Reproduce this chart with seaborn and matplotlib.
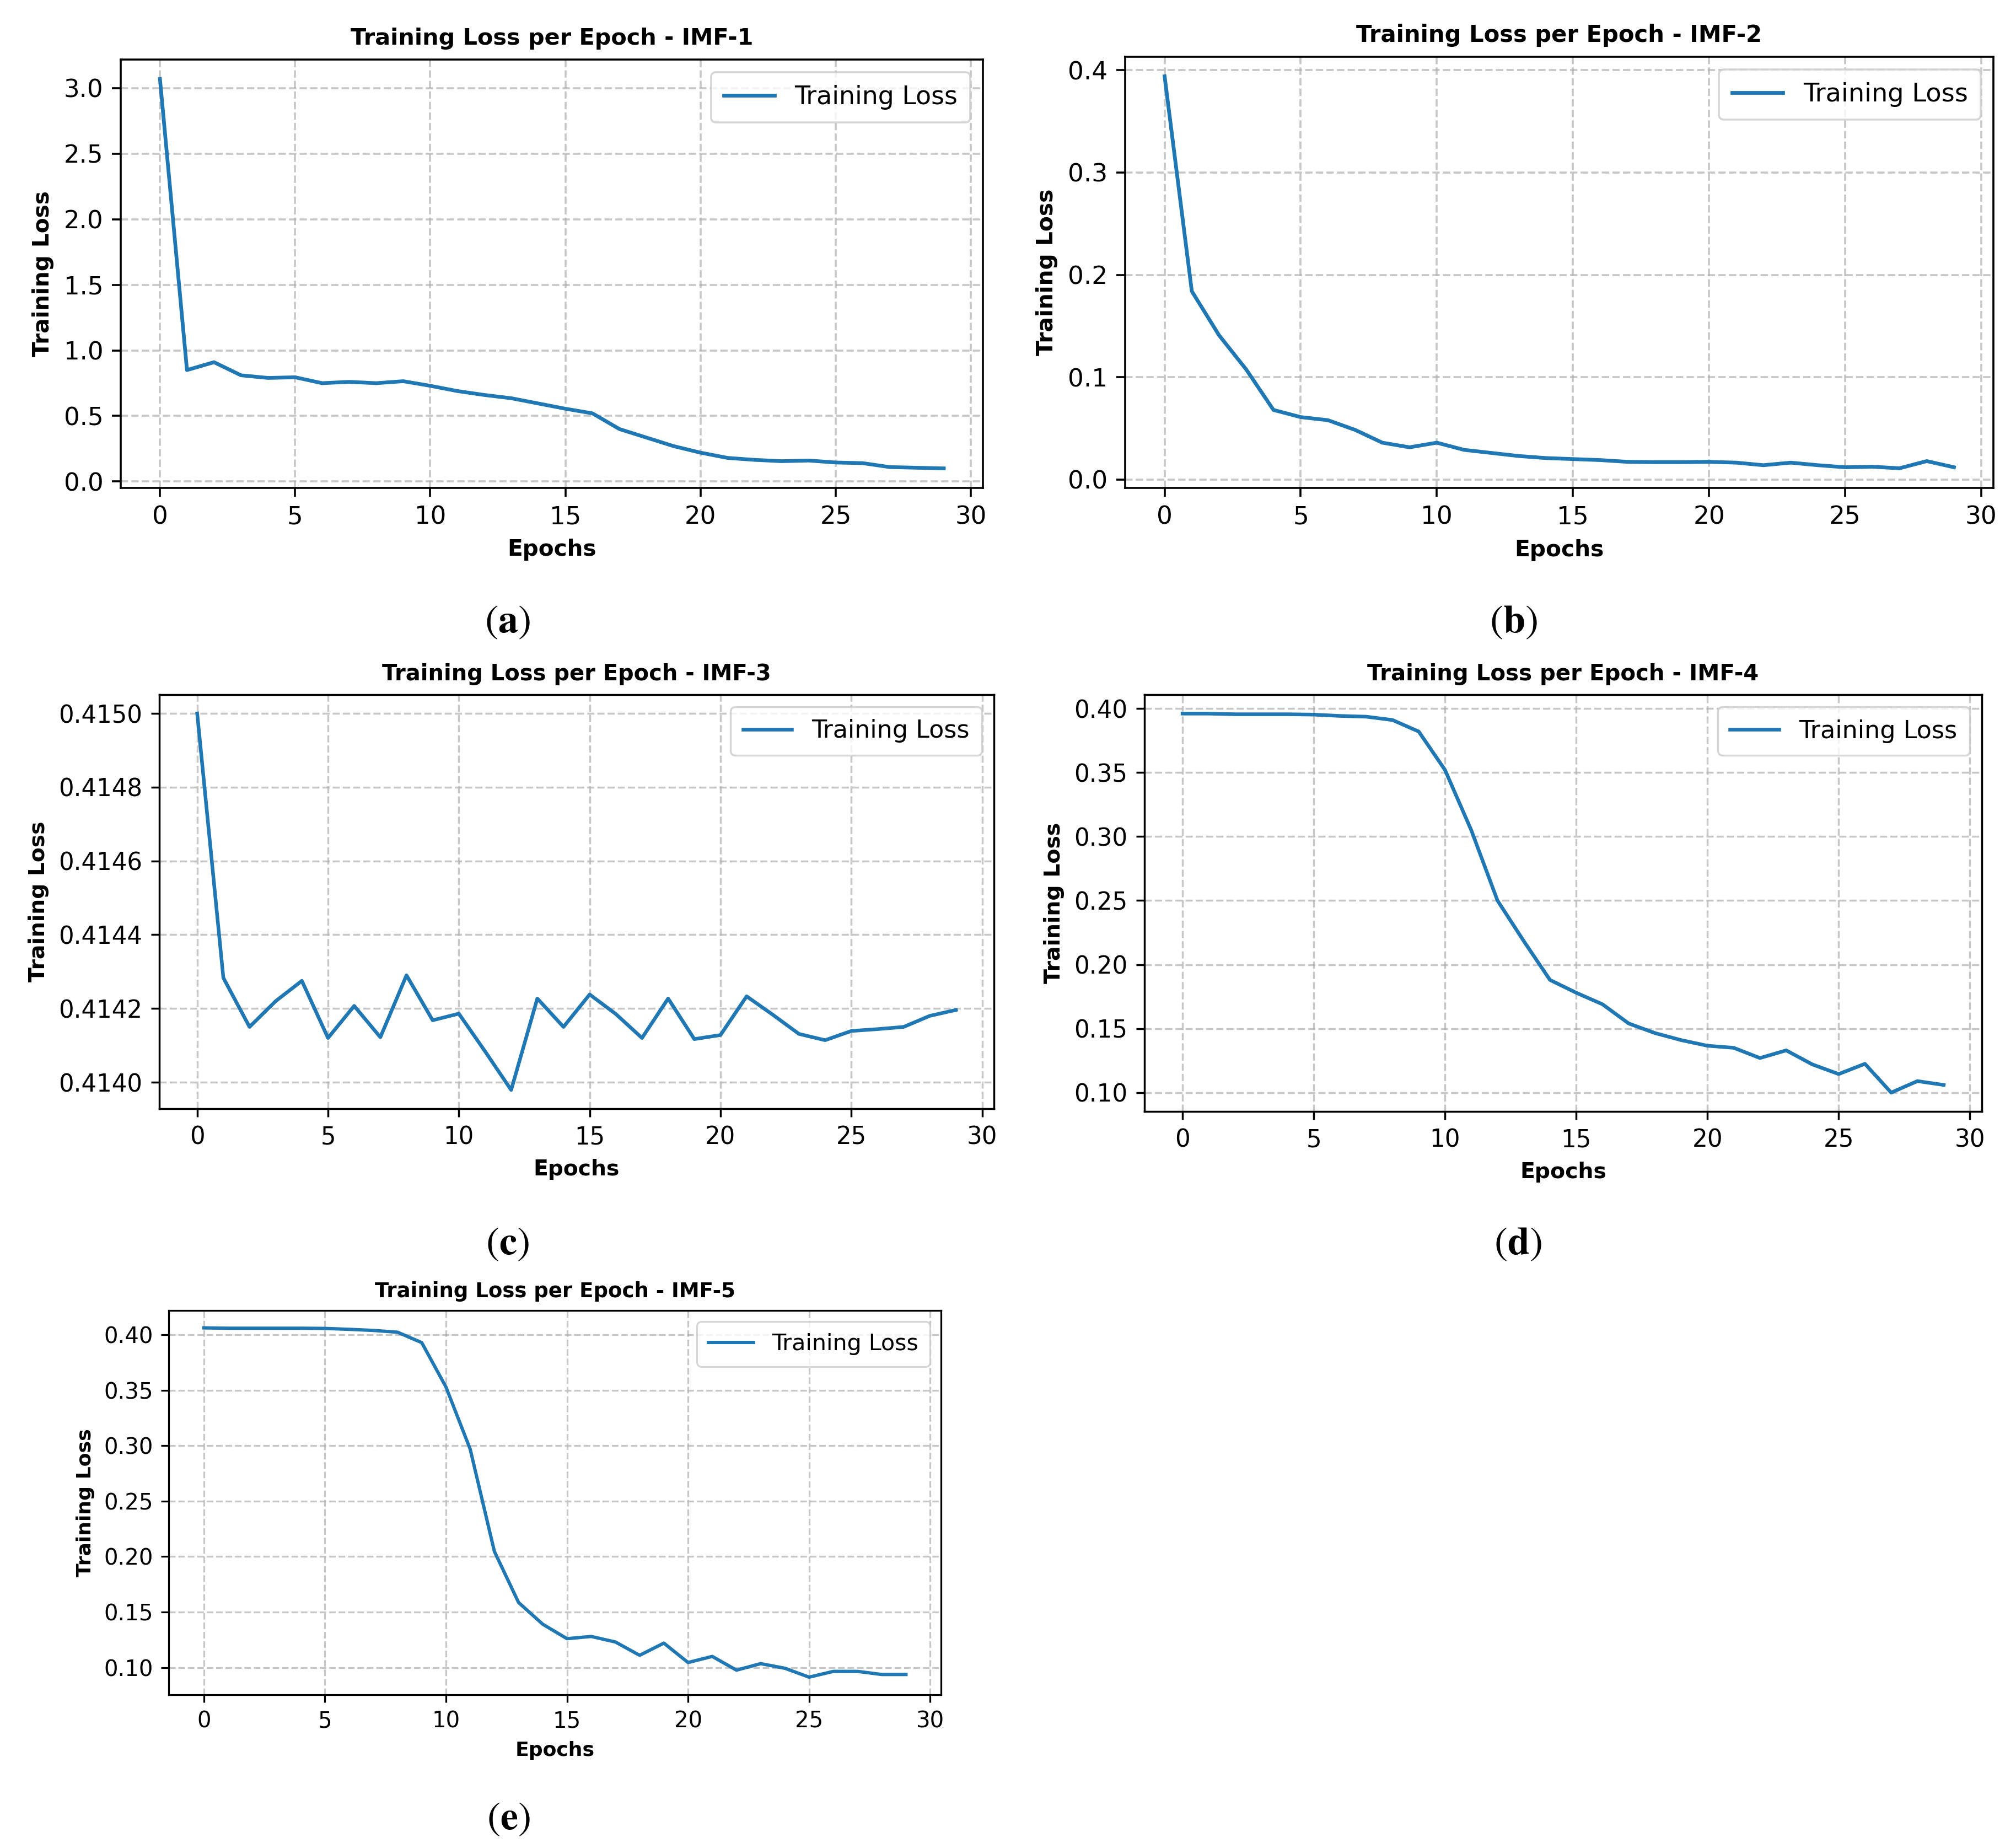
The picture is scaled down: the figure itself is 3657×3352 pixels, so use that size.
import matplotlib
matplotlib.use("Agg")
import matplotlib.pyplot as plt
import seaborn as sns
import pandas as pd

# ---------------- data ----------------
epochs = list(range(30))

imf1_loss = [3.07, 0.85, 0.91, 0.81, 0.79, 0.795, 0.75, 0.76, 0.75, 0.765,
             0.73, 0.69, 0.66, 0.635, 0.595, 0.555, 0.52, 0.40, 0.335, 0.27,
             0.22, 0.18, 0.165, 0.155, 0.16, 0.145, 0.14, 0.11, 0.105, 0.10]

imf2_loss = [0.394, 0.184, 0.141, 0.1075, 0.068, 0.061, 0.058, 0.0485, 0.036, 0.0315,
             0.036, 0.029, 0.026, 0.023, 0.021, 0.020, 0.019, 0.0173, 0.017, 0.017,
             0.0173, 0.0165, 0.014, 0.0165, 0.014, 0.012, 0.0125, 0.011, 0.018, 0.012]

imf3_loss = [0.41500, 0.414283, 0.41415, 0.41422, 0.414275, 0.41412, 0.414207, 0.414122,
             0.41429, 0.414168, 0.414186, 0.414084, 0.413979, 0.414227, 0.41415, 0.414238,
             0.414185, 0.41412, 0.414227, 0.414117, 0.414128, 0.414233, 0.414183, 0.414131,
             0.414114, 0.414139, 0.414144, 0.41415, 0.41418, 0.414196]

imf4_loss = [0.396, 0.396, 0.3955, 0.3955, 0.3955, 0.3952, 0.3942, 0.3936, 0.391, 0.382,
             0.352, 0.305, 0.250, 0.2184, 0.188, 0.178, 0.169, 0.154, 0.1465, 0.141,
             0.1366, 0.135, 0.127, 0.133, 0.122, 0.1145, 0.1225, 0.100, 0.109, 0.106]

imf5_loss = [0.4063, 0.406, 0.406, 0.406, 0.406, 0.4058, 0.405, 0.404, 0.4024, 0.393,
             0.353, 0.297, 0.2047, 0.1586, 0.139, 0.126, 0.128, 0.123, 0.111, 0.122,
             0.1045, 0.110, 0.0976, 0.1035, 0.0993, 0.0913, 0.0965, 0.0965, 0.0937, 0.0937]

series = [imf1_loss, imf2_loss, imf3_loss, imf4_loss, imf5_loss]
titles = ["Training Loss per Epoch - IMF-1", "Training Loss per Epoch - IMF-2",
          "Training Loss per Epoch - IMF-3", "Training Loss per Epoch - IMF-4",
          "Training Loss per Epoch - IMF-5"]
caption_letters = ["a", "b", "c", "d", "e"]
x_label = "Epochs"
y_label = "Training Loss"
legend_label = "Training Loss"

# ---------------- layout ----------------
W, H = 3657, 3352
DPI = 100
# [left, bottom, width, height] in figure fraction
rects = [
    [0.0599, 0.7360, 0.4277, 0.2318],
    [0.5581, 0.7360, 0.4307, 0.2333],
    [0.0790, 0.4000, 0.4140, 0.2241],
    [0.5677, 0.3985, 0.4153, 0.2256],
    [0.0837, 0.0830, 0.3831, 0.2079],
]
scales = [1.0, 1.007, 0.968, 0.971, 0.896]
caption_pos = [(0.2516, 0.6635), (0.7506, 0.6635), (0.2516, 0.3270),
               (0.7530, 0.3270), (0.2521, 0.0160)]
fmt4 = [False, False, True, False, False]

plt.rcParams['font.family'] = ['DejaVu Sans']
plt.rcParams['mathtext.fontset'] = 'stix'
fig = plt.figure(figsize=(W / DPI, H / DPI), dpi=DPI)
fig.patch.set_facecolor("white")

BASE = 3.24  # pt per original pt
for i, vals in enumerate(series):
    s = BASE * scales[i]
    ax = fig.add_axes(rects[i])
    df = pd.DataFrame({"Epoch": epochs, "Loss": vals})
    sns.lineplot(data=df, x="Epoch", y="Loss", ax=ax, color="#1f77b4",
                 linewidth=1.5 * s, label=legend_label)
    ax.set_title(titles[i], fontsize=9.2 * s, fontweight="bold", pad=6 * s)
    ax.set_xlabel(x_label, fontsize=9 * s, fontweight="bold", labelpad=4 * s)
    ax.set_ylabel(y_label, fontsize=9 * s, fontweight="bold", labelpad=4 * s)
    ax.set_xticks([0, 5, 10, 15, 20, 25, 30])
    ax.tick_params(labelsize=10 * s, length=3.5 * s, width=0.8 * s, pad=3.5 * s)
    if fmt4[i]:
        ax.yaxis.get_major_formatter().set_useOffset(False)
    for sp in ax.spines.values():
        sp.set_linewidth(0.8 * s)
        sp.set_color("black")
    ax.grid(True, linestyle="--", alpha=0.7, linewidth=0.8 * s, color="#b0b0b0")
    leg = ax.legend(loc="upper right", fontsize=10.2 * s, framealpha=0.8,
                    borderpad=0.5, handlelength=2.0)
    leg.get_frame().set_linewidth(0.8 * s)
    fig.text(caption_pos[i][0], caption_pos[i][1],
             r"$(\mathbf{" + caption_letters[i] + r"})$",
             ha="center", va="center", fontsize=52)

fig.savefig("out.png", dpi=DPI, facecolor="white")
